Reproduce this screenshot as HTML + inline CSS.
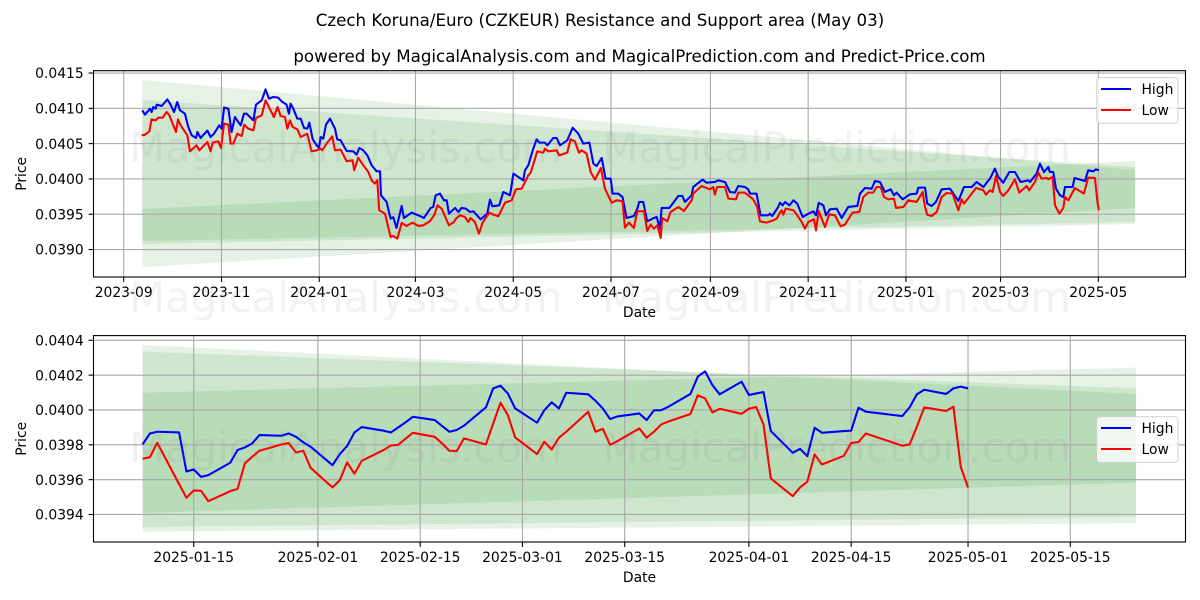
<!DOCTYPE html>
<html lang="en">
<head>
<meta charset="utf-8">
<title>Czech Koruna/Euro (CZKEUR) Resistance and Support area</title>
<style>
html,body{margin:0;padding:0;background:#fff;}
svg{display:block;}
text{font-family:"DejaVu Sans","Liberation Sans",sans-serif;fill:#000;}
</style>
</head>
<body>
<svg id="figure" xmlns="http://www.w3.org/2000/svg" width="1200" height="600" viewBox="0 0 1200 600">
  <rect x="0" y="0" width="1200" height="600" fill="#ffffff"></rect>
  <text x="600" y="26" text-anchor="middle" font-size="16.67">Czech Koruna/Euro (CZKEUR) Resistance and Support area (May 03)</text>
  <text x="639.5" y="62" text-anchor="middle" font-size="16.67">powered by MagicalAnalysis.com and MagicalPrediction.com and Predict-Price.com</text>
  <g id="top-panel"></g>
  <g id="bottom-panel"></g>
  <g fill-opacity="0.1" style="white-space:pre">
    <text x="600" y="162" text-anchor="middle" font-size="41.67" style="fill:#808080;fill-opacity:.1;white-space:pre" xml:space="preserve">MagicalAnalysis.com   MagicalPrediction.com</text>
    <text x="600" y="312" text-anchor="middle" font-size="41.67" style="fill:#808080;fill-opacity:.1;white-space:pre" xml:space="preserve">MagicalAnalysis.com   MagicalPrediction.com</text>
    <text x="600" y="462" text-anchor="middle" font-size="41.67" style="fill:#808080;fill-opacity:.1;white-space:pre" xml:space="preserve">MagicalAnalysis.com   MagicalPrediction.com</text>
  </g>
</svg>
<script>
/* ---------- Top panel data (x values are days since 2023-09-01) ---------- */
const topHighDays = [11.6,13.3,16.4,17.4,18.5,20,20.6,23.7,27.2,28.9,31.4,33.4,35.1,38.2,40.3,42.4,45.1,46,48,52.2,54.2,56.3,59.6,61.1,62.6,65.3,67.3,69.4,71.5,73,75,76.7,80.9,82.5,86.1,88.5,90.6,93.3,96.4,98.5,101.6,103.1,104.1,105.8,108.3,110.4,112.5,114.5,115.8,117.9,120.4,121.8,122.9,124.5,126.2,128.7,131.8,133.2,135.3,139.1,143.2,145.3,147,149.5,152,154.7,157.8,159.9,160.5,164,166.5,168.2,170.2,173.4,174.8,179.6,183.8,187.3,191.5,193.1,194.6,197.3,199.8,201.5,202.9,206.7,208.8,210.8,213.5,216,218.1,222.7,226.8,228.5,230,234.3,236.8,241,243.1,246.2,249.3,250.3,252.4,255.5,257.6,259.3,262.8,264.3,268,270.1,272.2,276.7,280.1,283.6,286.7,290.5,293,295,298.2,300.6,303.8,305,308.5,311.2,313.7,318.3,320.4,321.6,324.1,326.6,330.8,332.5,334.5,335.6,340.4,346,348.5,350.1,354.3,355.3,361.1,363.6,368.8,370.9,375.1,378.2,381.3,383.4,387.5,389.6,390.7,394.8,397.3,402.1,403.1,404.6,408.3,409.4,411.1,412.6,415.3,417.8,420.2,423.6,427.1,430.2,431.9,433.6,436.5,438.1,440.6,444.8,447.9,452,457.7,459.3,462.5,466.6,468.7,471.8,474.9,478.5,480.5,482.2,485.9,490.5,494.7,495.7,499.9,501.3,504,506.7,510.3,515.5,520.7,524.2,529,532.1,536.3,540.4,543.5,545.6,548.7,552.5,556,559.5,564.3,565.4,569.5,571.6,574.1,576.8,577.8,579.9,581.6,584.1,586.2,587.2,592,593.2,599.7,601.7,604.9,606.5,608.4];
const topHighValues = [0.040972,0.04091,0.040995,0.040948,0.041019,0.040995,0.041052,0.041033,0.041127,0.041066,0.040948,0.04109,0.040972,0.040924,0.040736,0.040618,0.04058,0.040665,0.04058,0.040684,0.040594,0.040641,0.040759,0.040712,0.041009,0.040995,0.040665,0.040877,0.040806,0.040759,0.040924,0.040924,0.04083,0.041052,0.041113,0.041269,0.041137,0.04116,0.041151,0.041099,0.041052,0.040924,0.041066,0.040995,0.040854,0.040854,0.040722,0.040712,0.040797,0.040561,0.040476,0.040438,0.040594,0.04057,0.040769,0.040854,0.040712,0.040561,0.040547,0.040396,0.040391,0.040344,0.040438,0.040405,0.040334,0.040193,0.040108,0.040108,0.039768,0.039674,0.039438,0.039457,0.039306,0.039617,0.039447,0.039523,0.039485,0.039447,0.039589,0.039603,0.039768,0.039792,0.039697,0.039697,0.039508,0.039589,0.039532,0.039589,0.039579,0.039532,0.039542,0.039428,0.039508,0.039707,0.039612,0.039626,0.039815,0.039768,0.040075,0.040028,0.03998,0.040122,0.040193,0.040429,0.040561,0.040514,0.040514,0.040476,0.04058,0.04058,0.040476,0.040547,0.040726,0.040641,0.0405,0.040514,0.040216,0.040183,0.040297,0.040004,0.040004,0.039792,0.039792,0.039744,0.039447,0.039475,0.039579,0.039674,0.039674,0.0394,0.039447,0.039461,0.039296,0.039589,0.039589,0.039759,0.039759,0.039674,0.039768,0.039886,0.03999,0.039947,0.039957,0.03998,0.039957,0.039815,0.039806,0.0399,0.039886,0.039853,0.039792,0.039792,0.039485,0.039485,0.039508,0.039475,0.039603,0.039664,0.039626,0.039674,0.039626,0.039697,0.03965,0.039461,0.039508,0.039542,0.039485,0.03966,0.039626,0.039485,0.03957,0.039579,0.039447,0.039603,0.039617,0.039792,0.039872,0.039862,0.039971,0.039957,0.039815,0.039853,0.039768,0.039806,0.039711,0.039782,0.039792,0.039877,0.039877,0.03965,0.039617,0.039674,0.039853,0.039862,0.039688,0.039886,0.039886,0.039957,0.039886,0.040004,0.040146,0.040028,0.039947,0.040098,0.040098,0.039957,0.03998,0.039957,0.040075,0.040216,0.040098,0.040169,0.040098,0.040098,0.039862,0.039768,0.039744,0.039886,0.039886,0.040014,0.039971,0.040122,0.040108,0.040136,0.040122];
const topLowDays = [11.2,13.3,16,17.4,20,21.6,24.3,26.8,28.5,32.6,33.9,35.5,39.7,41.3,45.5,47.2,52.2,54.2,55.5,59,60.7,62.6,65.3,66.7,68.4,70.9,73.6,75.2,77.7,80.9,82.5,86.1,88.5,93.7,96,97.9,100.6,102.1,103.7,105.4,108.3,110.4,112.5,114.5,117.2,120.4,122.9,123.9,126.6,130.1,131.8,135.3,139.1,142.8,143.8,146.3,149.5,152.6,154.7,156.7,158.2,159.4,163,166.5,168.2,170.7,173.4,176.5,180.2,183.8,186.9,191,193.7,195.8,198.4,200.9,202.9,206,207.3,209.8,212.9,215,216.4,219.1,221.6,223.9,228.1,230.6,233.7,237.9,242,244.7,248.3,252.4,253.9,256.6,258,261.8,262.8,264.9,270.1,271.7,276.7,278.8,281.5,284,285.7,288.8,291.3,294,297.7,300.2,304.4,307.5,311.2,312.7,315.2,318.3,320.4,324.6,326.6,328.7,330.8,332.9,335,336,339.1,341.2,346,349.5,354.3,355.3,360.5,365.7,367.8,368.8,370.3,375.1,377.2,382,383.4,387.5,392.7,395.2,396.9,401,405.2,407.4,409.4,410.5,411.5,413,417.8,420.2,423,425,427.1,430.6,431.9,433.6,437.5,440.2,443.7,447.3,450,454.6,458.9,461.4,464.5,467.6,469.7,472.2,474.3,477,480.5,481.8,486.4,489.5,494.7,498.4,499.9,501.3,504,507.2,510.3,513.4,517.1,520.7,522.7,524.2,527.9,531.7,536.3,537.9,540.4,542.1,544.2,546.7,548.7,551.9,556,558.7,563.3,564.9,568.5,570.6,572.6,575.8,576.8,579.5,581,583.7,586.2,587.2,589.3,593.4,599,601.7,605.9,607.6,608.4];
const topLowValues = [0.040618,0.040627,0.040674,0.040844,0.04083,0.040868,0.040868,0.040948,0.040901,0.040665,0.040844,0.040759,0.040618,0.040391,0.040476,0.040405,0.040523,0.040391,0.040514,0.040533,0.040438,0.040783,0.040769,0.0405,0.0405,0.040641,0.040608,0.040769,0.040712,0.040688,0.040863,0.040901,0.041113,0.040877,0.041019,0.040891,0.040877,0.040712,0.04083,0.040736,0.040703,0.040594,0.040618,0.040641,0.040391,0.040405,0.040429,0.040405,0.0405,0.040604,0.040405,0.040415,0.04025,0.040264,0.040122,0.040301,0.040193,0.040098,0.03998,0.039933,0.03998,0.039556,0.039508,0.039178,0.039192,0.039154,0.039376,0.039334,0.039381,0.039334,0.039343,0.0394,0.039485,0.039626,0.039579,0.039447,0.039343,0.03939,0.039438,0.039485,0.039461,0.03939,0.039447,0.03939,0.039225,0.039381,0.039523,0.039494,0.039471,0.039664,0.039697,0.039853,0.039862,0.040051,0.040089,0.040287,0.040391,0.040372,0.040429,0.040391,0.040405,0.040334,0.040372,0.040561,0.040533,0.040372,0.040405,0.040358,0.040098,0.03999,0.040155,0.039862,0.039664,0.039697,0.039683,0.03931,0.039381,0.039306,0.039542,0.039542,0.039263,0.039353,0.039296,0.039343,0.039164,0.039447,0.0394,0.039532,0.039603,0.039546,0.039697,0.039792,0.0399,0.039853,0.039886,0.039778,0.039886,0.039886,0.039721,0.039711,0.039806,0.039806,0.039711,0.039603,0.0394,0.039381,0.039414,0.039438,0.039523,0.039556,0.039494,0.039579,0.039556,0.039485,0.03939,0.039296,0.03939,0.039428,0.039272,0.039546,0.03932,0.039499,0.039485,0.039329,0.039353,0.039523,0.039532,0.039744,0.039806,0.039806,0.039886,0.039886,0.039744,0.039711,0.039721,0.039589,0.039603,0.039697,0.039674,0.039815,0.039603,0.039494,0.039475,0.039532,0.039744,0.039801,0.039792,0.039556,0.039711,0.03965,0.039759,0.039872,0.039839,0.039778,0.039839,0.039815,0.040042,0.039815,0.039759,0.039839,0.039995,0.039806,0.0399,0.039839,0.039957,0.040089,0.040004,0.040014,0.039995,0.040028,0.039626,0.039508,0.039589,0.039744,0.039697,0.039872,0.039792,0.040018,0.040014,0.03965,0.039556];
const topBandDays = [11.6, 631];
const topBandUpperStart = [0.041401, 0.041118, 0.039574];
const topBandUpperEnd = [0.040126, 0.040169, 0.040254];
const topBandLowerStart = [0.039078, 0.03912, 0.038752];
const topBandLowerEnd = [0.039361, 0.03939, 0.039588];
const topYTicks = ['0.0390','0.0395','0.0400','0.0405','0.0410','0.0415'];
const topXTicks = ['2023-09','2023-11','2024-01','2024-03','2024-05','2024-07','2024-09','2024-11','2025-01','2025-03','2025-05'];

/* ---------- Bottom panel data ---------- */
const bottomDates = ['2025-01-08','2025-01-09','2025-01-10','2025-01-13','2025-01-14','2025-01-15','2025-01-16','2025-01-17','2025-01-20','2025-01-21','2025-01-22','2025-01-23','2025-01-24','2025-01-27','2025-01-28','2025-01-29','2025-01-30','2025-01-31','2025-02-03','2025-02-04','2025-02-05','2025-02-06','2025-02-07','2025-02-10','2025-02-11','2025-02-12','2025-02-13','2025-02-14','2025-02-17','2025-02-18','2025-02-19','2025-02-20','2025-02-21','2025-02-24','2025-02-25','2025-02-26','2025-02-27','2025-02-28','2025-03-03','2025-03-04','2025-03-05','2025-03-06','2025-03-07','2025-03-10','2025-03-11','2025-03-12','2025-03-13','2025-03-14','2025-03-17','2025-03-18','2025-03-19','2025-03-20','2025-03-21','2025-03-24','2025-03-25','2025-03-26','2025-03-27','2025-03-28','2025-03-31','2025-04-01','2025-04-02','2025-04-03','2025-04-04','2025-04-07','2025-04-08','2025-04-09','2025-04-10','2025-04-11','2025-04-14','2025-04-15','2025-04-16','2025-04-17','2025-04-22','2025-04-23','2025-04-24','2025-04-25','2025-04-28','2025-04-29','2025-04-30','2025-05-01'];
const bottomHighValues = [0.039802,0.039865,0.039875,0.039871,0.039647,0.039659,0.039616,0.039626,0.039697,0.03977,0.039785,0.039808,0.039856,0.039852,0.039865,0.039846,0.039814,0.039789,0.039683,0.039747,0.039793,0.039871,0.039902,0.039881,0.039871,0.0399,0.039929,0.039961,0.039942,0.039908,0.039875,0.039885,0.03991,0.040015,0.040124,0.040139,0.040095,0.040009,0.039927,0.039999,0.040044,0.040009,0.040099,0.04009,0.040053,0.040009,0.039948,0.039963,0.03998,0.039942,0.039998,0.039999,0.040019,0.040092,0.040191,0.040222,0.040143,0.04009,0.040162,0.040086,0.040095,0.040103,0.039879,0.039754,0.039777,0.039735,0.039898,0.039869,0.039879,0.039881,0.040013,0.03999,0.039965,0.040015,0.04009,0.040116,0.040092,0.040124,0.040134,0.040124];
const bottomLowValues = [0.03972,0.039729,0.039812,0.039574,0.039496,0.039538,0.039536,0.039476,0.039534,0.039547,0.039693,0.039731,0.039766,0.039802,0.03981,0.039756,0.039766,0.039668,0.039555,0.039597,0.039699,0.039634,0.039708,0.03977,0.039796,0.0398,0.039835,0.039869,0.039846,0.039808,0.039766,0.039764,0.039837,0.039802,0.039923,0.040042,0.039971,0.039842,0.039747,0.039818,0.039773,0.039841,0.039875,0.03999,0.039875,0.039892,0.0398,0.039821,0.039894,0.039841,0.039875,0.039917,0.039934,0.039977,0.040084,0.040067,0.039986,0.040007,0.039978,0.040007,0.040017,0.039917,0.039607,0.039505,0.039555,0.039588,0.039745,0.039687,0.039737,0.03981,0.039816,0.039865,0.039795,0.039802,0.039904,0.040015,0.039994,0.040019,0.039674,0.039555];
const bottomBandDates = ['2025-01-08', '2025-05-24'];
const bottomBandUpperStart = [0.040373, 0.040335, 0.040099];
const bottomBandUpperEnd = [0.040092, 0.040124, 0.040243];
const bottomBandLowerStart = [0.039328, 0.039301, 0.039409];
const bottomBandLowerEnd = [0.039386, 0.03935, 0.039583];
const bottomYTicks = ['0.0394','0.0396','0.0398','0.0400','0.0402','0.0404'];
const bottomXTicks = ['2025-01-15','2025-02-01','2025-02-15','2025-03-01','2025-03-15','2025-04-01','2025-04-15','2025-05-01','2025-05-15'];

const legendLabels = ['High', 'Low'];
const seriesColors = ['#0000ff', '#ff0000'];

const NS = 'http://www.w3.org/2000/svg';
const DAY_MS = 86400000;

function make(parent, tag, attrs) {
  const node = document.createElementNS(NS, tag);
  for (const key in attrs) { node.setAttribute(key, attrs[key]); }
  parent.appendChild(node);
  return node;
}

function daysFrom(origin, iso) {
  const full = iso.length === 7 ? iso + '-01' : iso;
  return (Date.parse(full + 'T00:00:00Z') - Date.parse(origin + 'T00:00:00Z')) / DAY_MS;
}

function drawPanel(panel) {
  const group = panel.group;
  const box = panel.box;
  const xScale = function (d) {
    return box.left + (d - panel.xDomain[0]) / (panel.xDomain[1] - panel.xDomain[0]) * (box.right - box.left);
  };
  const yScale = function (v) {
    return box.bottom - (v - panel.yDomain[0]) / (panel.yDomain[1] - panel.yDomain[0]) * (box.bottom - box.top);
  };

  panel.bandUpperStart.forEach(function (upperStart, i) {
    const points = [
      [xScale(panel.bandDays[0]), yScale(upperStart)],
      [xScale(panel.bandDays[1]), yScale(panel.bandUpperEnd[i])],
      [xScale(panel.bandDays[1]), yScale(panel.bandLowerEnd[i])],
      [xScale(panel.bandDays[0]), yScale(panel.bandLowerStart[i])]
    ];
    const band = make(group, 'polygon', {
      points: points.map(function (p) { return p[0].toFixed(2) + ',' + p[1].toFixed(2); }).join(' '),
      fill: '#008000',
      'fill-opacity': 0.1
    });
    
    
  });

  panel.xTicks.forEach(function (label) {
    const x = xScale(daysFrom(panel.origin, label));
    const grid = make(group, 'line', { x1: x, x2: x, y1: box.top, y2: box.bottom, stroke: '#a8a8a8', 'stroke-width': 1.1 });
    
    
    const tick = make(group, 'line', { x1: x, x2: x, y1: box.bottom, y2: box.bottom + 4.9, stroke: '#000', 'stroke-width': 1.1 });
    
    
    const text = make(group, 'text', { x: x, y: box.bottom + 20, 'text-anchor': 'middle', 'font-size': 13.89 });
    text.textContent = label;
    
    
  });

  panel.yTicks.forEach(function (label) {
    const y = yScale(parseFloat(label));
    const grid = make(group, 'line', { x1: box.left, x2: box.right, y1: y, y2: y, stroke: '#a8a8a8', 'stroke-width': 1.1 });
    
    
    const tick = make(group, 'line', { x1: box.left - 4.9, x2: box.left, y1: y, y2: y, stroke: '#000', 'stroke-width': 1.1 });
    
    
    const text = make(group, 'text', { x: box.left - 9.8, y: y + 5.2, 'text-anchor': 'end', 'font-size': 13.89 });
    text.textContent = label;
    
    
  });

  const highPath = panel.highDays.map(function (d, i) {
    return xScale(d).toFixed(2) + ',' + yScale(panel.highValues[i]).toFixed(2);
  }).join(' ');
  const highLine = make(group, 'polyline', { points: highPath, fill: 'none', stroke: seriesColors[0], 'stroke-width': 2.08, 'stroke-linejoin': 'round' });
  
  

  const lowPath = panel.lowDays.map(function (d, i) {
    return xScale(d).toFixed(2) + ',' + yScale(panel.lowValues[i]).toFixed(2);
  }).join(' ');
  const lowLine = make(group, 'polyline', { points: lowPath, fill: 'none', stroke: seriesColors[1], 'stroke-width': 2.08, 'stroke-linejoin': 'round' });
  
  

  const frame = make(group, 'rect', { x: box.left, y: box.top, width: box.right - box.left, height: box.bottom - box.top, fill: 'none', stroke: '#000', 'stroke-width': 1.1 });
  
  

  const xTitle = make(group, 'text', { x: (box.left + box.right) / 2, y: box.bottom + 40, 'text-anchor': 'middle', 'font-size': 13.89 });
  xTitle.textContent = 'Date';
  
  

  const midY = (box.top + box.bottom) / 2;
  const yTitle = make(group, 'text', { x: 26, y: midY, 'text-anchor': 'middle', 'font-size': 13.89, transform: 'rotate(-90 26 ' + midY + ')' });
  yTitle.textContent = 'Price';
  
  

  const legend = make(group, 'g', {});
  
  
  const legendBox = make(legend, 'rect', { x: 1096.7, y: panel.legendTop, width: 81.3, height: 45.6, rx: 3, ry: 3, fill: '#ffffff', 'fill-opacity': 0.8, stroke: '#cccccc', 'stroke-opacity': 0.8, 'stroke-width': 1.1 });
  
  
  legendLabels.forEach(function (label, i) {
    const rowY = panel.legendTop + 11.3 + i * 21;
    const swatch = make(legend, 'line', { x1: 1101, x2: 1131, y1: rowY, y2: rowY, stroke: seriesColors[i], 'stroke-width': 2.08 });
    
    
    const entry = make(legend, 'text', { x: 1141.5, y: rowY + 5.1, 'font-size': 13.89 });
    entry.textContent = label;
    
    
  });
}

drawPanel({
  group: document.getElementById('top-panel'),
  box: { left: 93.5, right: 1185.5, top: 70.7, bottom: 277 },
  origin: '2023-09-01',
  xDomain: [-18.84, 662.4],
  yDomain: [0.038611, 0.041533],
  bandDays: topBandDays,
  bandUpperStart: topBandUpperStart,
  bandUpperEnd: topBandUpperEnd,
  bandLowerStart: topBandLowerStart,
  bandLowerEnd: topBandLowerEnd,
  xTicks: topXTicks,
  yTicks: topYTicks,
  highDays: topHighDays,
  highValues: topHighValues,
  lowDays: topLowDays,
  lowValues: topLowValues,
  legendTop: 77.7
});

const bottomDays = bottomDates.map(function (d) { return daysFrom('2025-01-15', d); });
drawPanel({
  group: document.getElementById('bottom-panel'),
  box: { left: 93.5, right: 1185.5, top: 335.6, bottom: 542 },
  origin: '2025-01-15',
  xDomain: [-13.72, 135.77],
  yDomain: [0.039242, 0.040427],
  bandDays: bottomBandDates.map(function (d) { return daysFrom('2025-01-15', d); }),
  bandUpperStart: bottomBandUpperStart,
  bandUpperEnd: bottomBandUpperEnd,
  bandLowerStart: bottomBandLowerStart,
  bandLowerEnd: bottomBandLowerEnd,
  xTicks: bottomXTicks,
  yTicks: bottomYTicks,
  highDays: bottomDays,
  highValues: bottomHighValues,
  lowDays: bottomDays,
  lowValues: bottomLowValues,
  legendTop: 416.7
});
</script>
</body>
</html>
